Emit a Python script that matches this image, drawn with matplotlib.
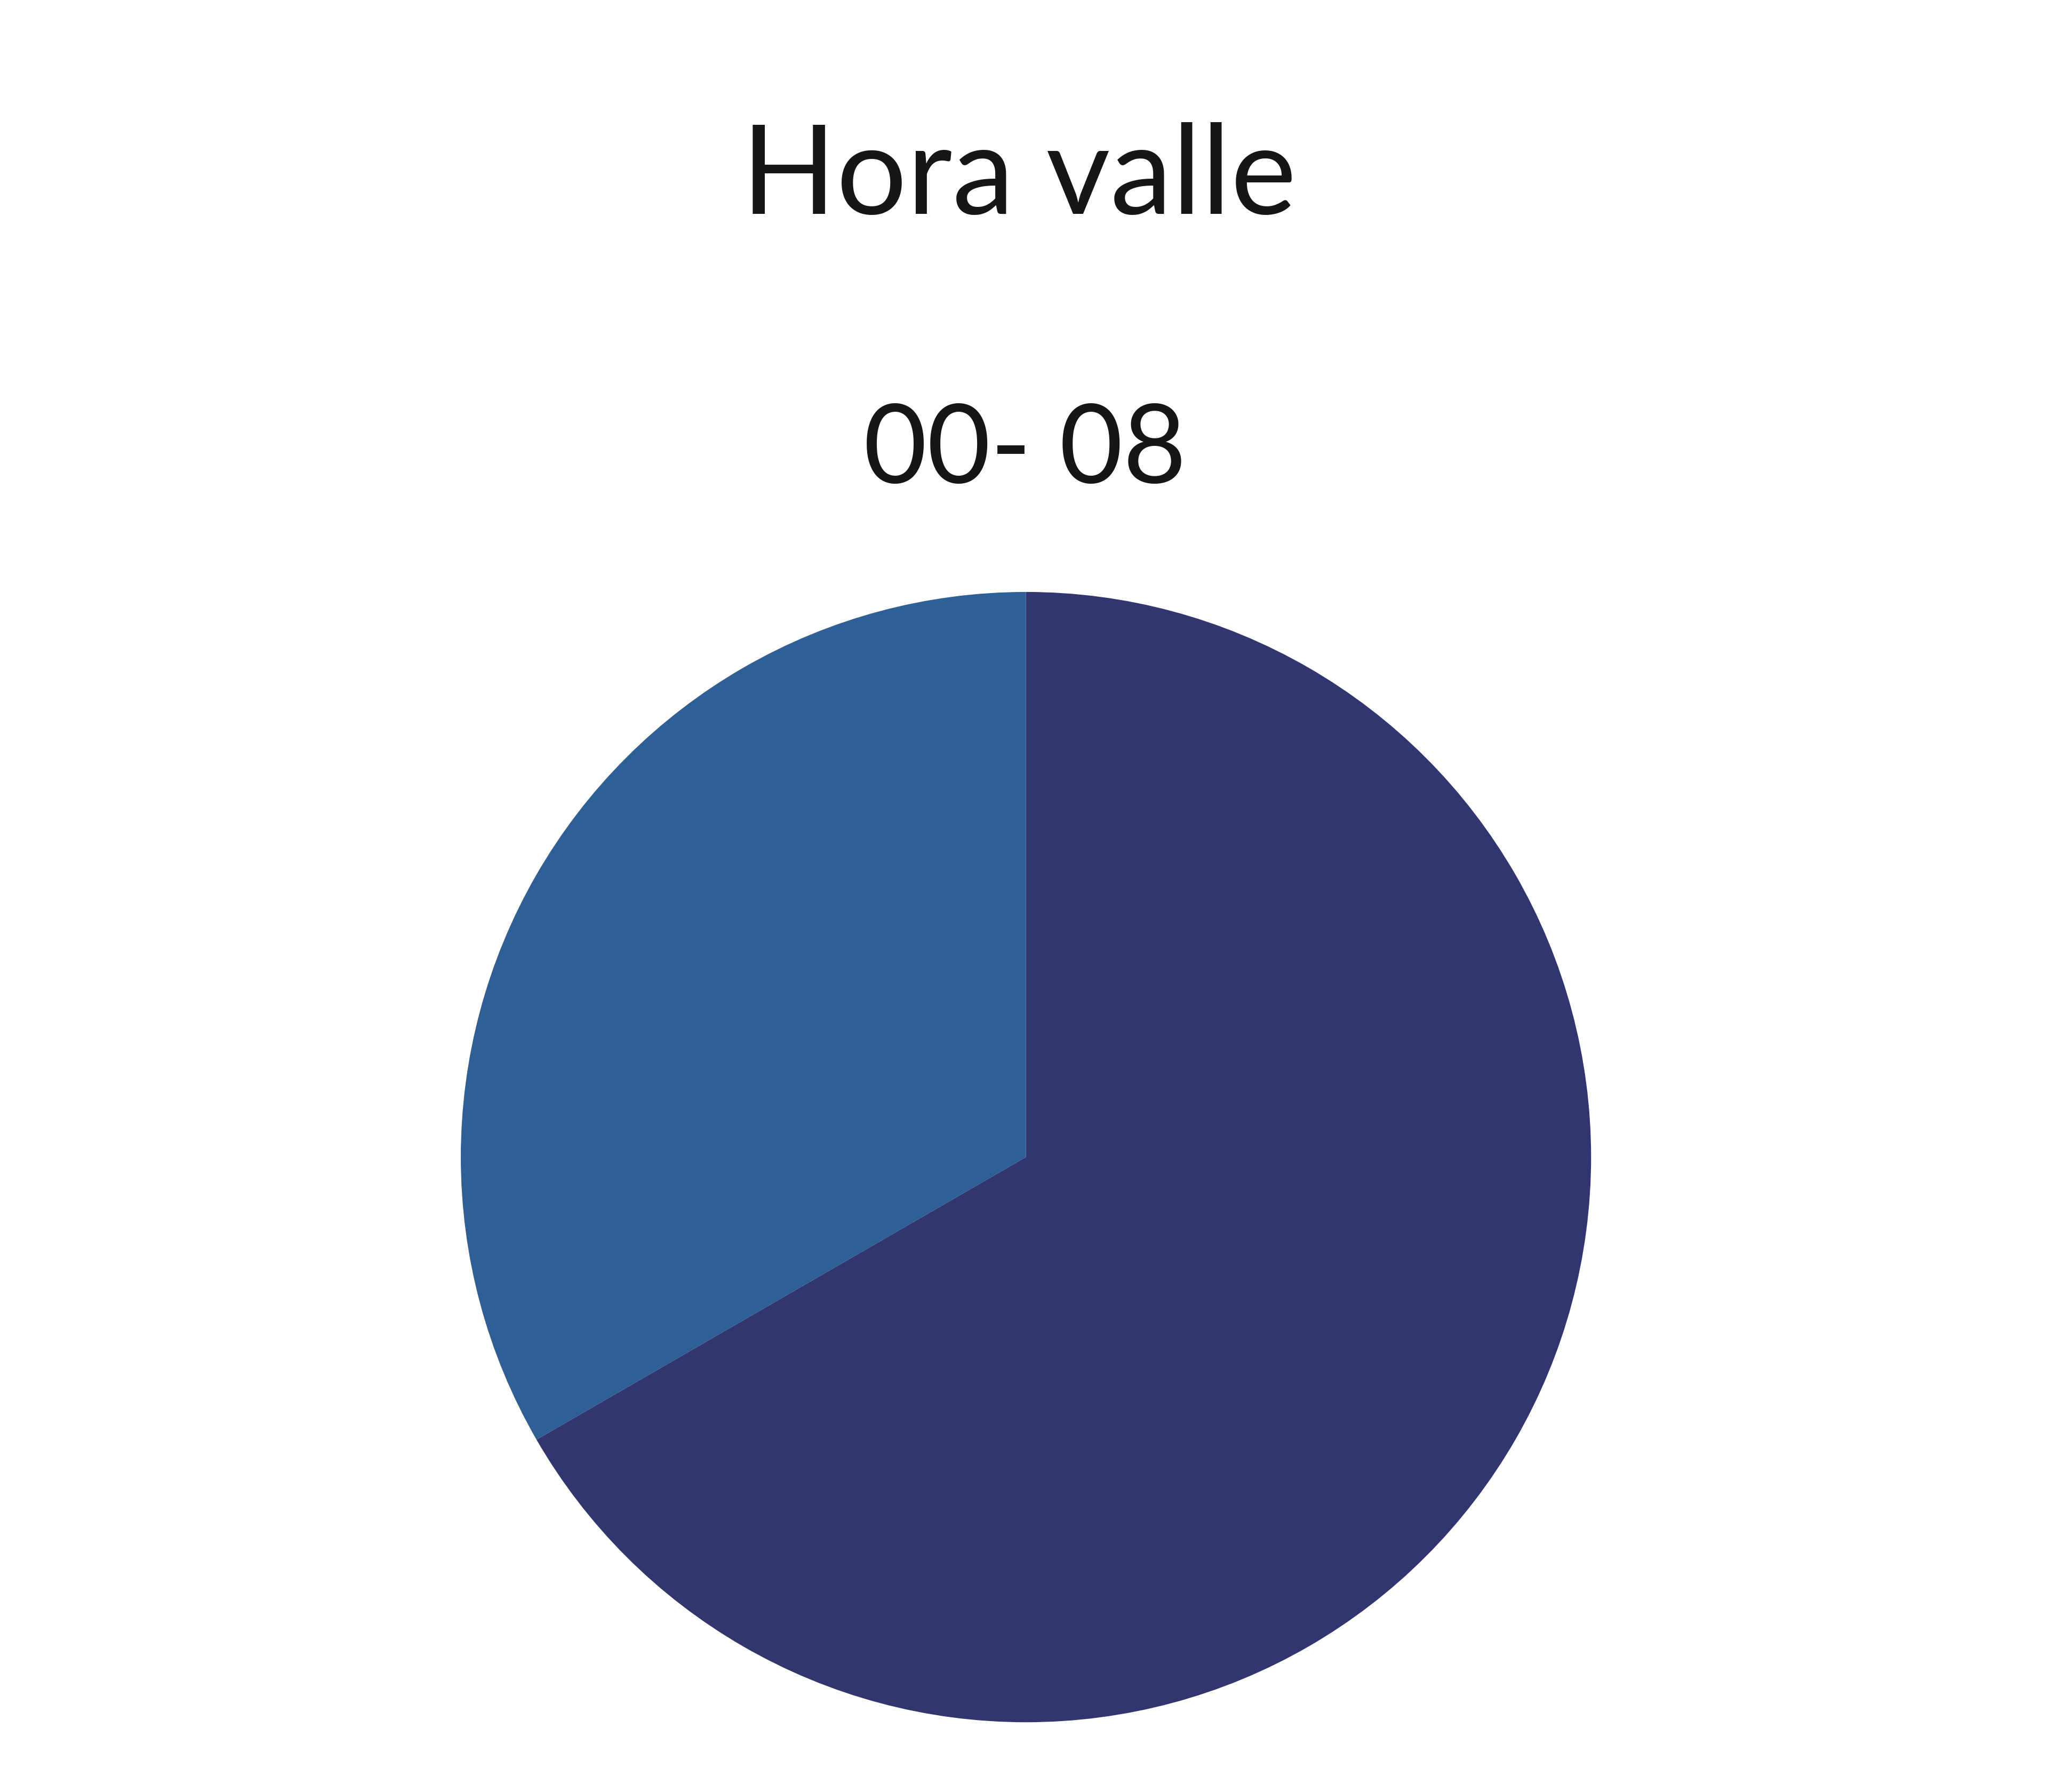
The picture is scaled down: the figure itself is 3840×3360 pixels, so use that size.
import matplotlib
matplotlib.use('Agg')
import matplotlib.pyplot as plt

# datos: horas del día en hora valle vs resto
labels = ['00-08', 'resto']
hours = [8, 16]
colors = ['#2E6097', '#32366F']

title = 'Hora valle'
subtitle = '00- 08'

plt.rcParams['font.family'] = ['Lato', 'DejaVu Sans']

fig = plt.figure(figsize=(38.4, 33.6), dpi=100)
fig.patch.set_facecolor('white')

# ejes colocados donde queda el pastel
ax = fig.add_axes([0.2250, 0.0389, 0.5519, 0.6308])
ax.pie(hours, colors=colors, startangle=90, counterclock=True,
       radius=1.0, wedgeprops={'linewidth': 0})
ax.set_xlim(-1, 1)
ax.set_ylim(-1, 1)
ax.set_aspect('equal')
ax.axis('off')

fig.text(0.4975, 0.8807, title, ha='center', va='baseline',
         fontsize=168, fontweight='normal', color='#161616')
fig.text(0.5005, 0.7307, subtitle, ha='center', va='baseline',
         fontsize=148, fontweight='normal', color='#161616')

fig.savefig('out.png', dpi=100, facecolor='white')
